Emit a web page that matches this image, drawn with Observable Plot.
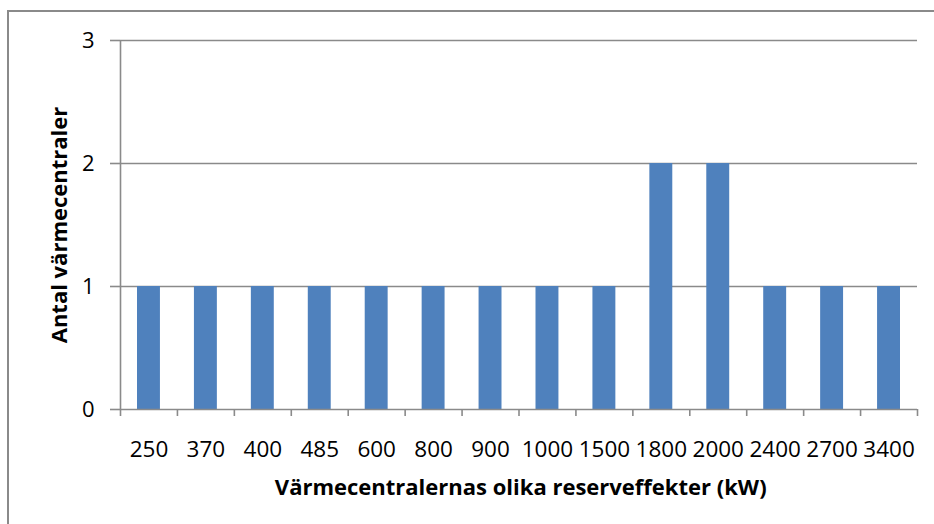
<!DOCTYPE html>
<html>
<head>
<meta charset="utf-8">
<script src="https://cdn.jsdelivr.net/npm/d3@7"></script>
<script src="https://cdn.jsdelivr.net/npm/@observablehq/plot@0.6"></script>
<style>
  html, body { margin: 0; padding: 0; background: #fff; }
  #wrap { position: relative; width: 934px; height: 524px; overflow: hidden; }
  #border { position: absolute; left: 7px; top: 10px; width: 940px; height: 530px;
            border-left: 2px solid #8a8a8a; border-top: 2px solid #8a8a8a; box-sizing: border-box; }
  #chart { position: absolute; left: 0; top: 0; }
</style>
</head>
<body>
<div id="wrap"><div id="border"></div><div id="chart"></div></div>
<script>
const categories = ["250", "370", "400", "485", "600", "800", "900", "1000", "1500", "1800", "2000", "2400", "2700", "3400"];
const counts = [1, 1, 1, 1, 1, 1, 1, 1, 1, 2, 2, 1, 1, 1];
const yTicks = [0, 1, 2, 3];
const xTitle = "Värmecentralernas olika reserveffekter (kW)";
const yTitle = "Antal värmecentraler";

const data = categories.map((c, i) => ({label: c, idx: i, count: counts[i]}));
const boundaries = categories.map((c, i) => i).concat([categories.length]);
const font = "'Open Sans', sans-serif";

const chart = Plot.plot({
  width: 934,
  height: 524,
  marginLeft: 120,
  marginRight: 17,
  marginTop: 40,
  marginBottom: 115,
  style: {background: "transparent", fontFamily: font, fontSize: "22px", color: "#000", overflow: "visible"},
  x: {type: "linear", domain: [0, categories.length], axis: null},
  y: {type: "linear", domain: [0, 3], axis: null},
  marks: [
    Plot.ruleY([1, 2, 3], {stroke: "#8a8a8a", strokeWidth: 1.6}),
    Plot.rectY(data, {x1: "idx", x2: d => d.idx + 1, y1: 0, y2: "count", fill: "#4F81BD", insetLeft: 17, insetRight: 17}),
    Plot.ruleX([0], {stroke: "#8a8a8a", strokeWidth: 1.6}),
    Plot.ruleY([0], {stroke: "#8a8a8a", strokeWidth: 1.6}),
    Plot.axisY({ticks: yTicks, tickSize: 10, tickPadding: 16, stroke: "#8a8a8a", strokeWidth: 1.6, fontSize: 22, label: null, tickFormat: d => String(d)}),
    Plot.axisX({ticks: boundaries, tickSize: 7, tickFormat: () => "", stroke: "#8a8a8a", strokeWidth: 1.6, label: null}),
    Plot.text(data, {x: d => d.idx + 0.5, y: d => 0, text: "label", dy: 40, fontSize: 22.5, fill: "#000"}),
    Plot.text([xTitle], {x: () => 7.03, y: () => 0, dy: 78, fontSize: 22, fontWeight: "bold", fill: "#000"}),
    Plot.text([yTitle], {x: () => 0, y: () => 1.5, dx: -61, rotate: -90, textAnchor: "middle", fontSize: 22, fontWeight: "bold", fill: "#000"})
  ]
});
document.getElementById("chart").appendChild(chart);
</script>
</body>
</html>
